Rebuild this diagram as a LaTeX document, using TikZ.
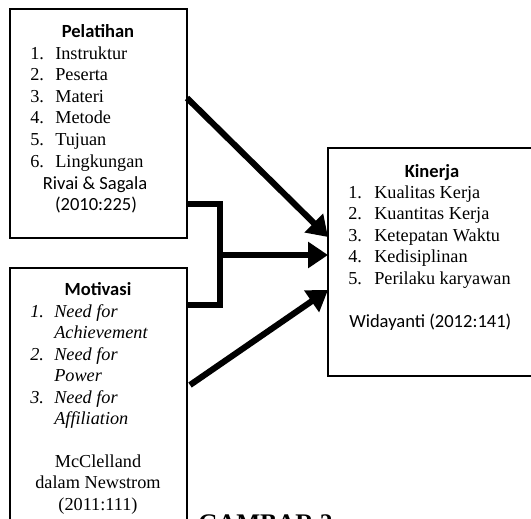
\documentclass[tikz,border=0pt]{standalone}
\usepackage{fontspec}
\setmainfont{Liberation Serif}
\newfontfamily\calfont{Carlito}
\usetikzlibrary{arrows.meta}
\begin{document}
\begin{tikzpicture}[x=0.75pt,y=-0.75pt,
  box/.style={draw, line width=1.4pt, anchor=north west, inner sep=0pt, outer sep=0pt},
  txt/.style={anchor=base west, inner sep=0pt, font=\fontsize{13.7}{16}\selectfont},
  ctxt/.style={anchor=base, inner sep=0pt, font=\fontsize{13.7}{16}\selectfont},
  head/.style={anchor=base, inner sep=0pt, font=\calfont\bfseries\fontsize{13.9}{16}\selectfont},
  cite/.style={inner sep=0pt, font=\calfont\fontsize{13.9}{16}\selectfont},
  itx/.style={txt, font=\itshape\fontsize{13.7}{16}\selectfont},
  link/.style={line width=4.6pt, -{Triangle[length=15pt,width=19pt]}},
  bracket/.style={line width=5.2pt, line join=miter}
]
\useasboundingbox (0,0) rectangle (531,518);
\fill[white] (0,0) rectangle (531,518);
% boxes
\node[box, minimum width=132.75pt, minimum height=171.75pt] (pel) at (10,9) {};
\node[box, minimum width=132.75pt, minimum height=196.5pt] (mot) at (10,268) {};
\node[box, minimum width=162.75pt, minimum height=171pt] (kin) at (328,148) {};
% Pelatihan text
\node[head] (pelt) at (98,37) {Pelatihan};
\node[txt] (p1n) at (30,59) {1.};
\node[txt] (p1) at (55,59) {Instruktur};
\node[txt] (p2n) at (30,80.6) {2.};
\node[txt] (p2) at (55,80.6) {Peserta};
\node[txt] (p3n) at (30,102.2) {3.};
\node[txt] (p3) at (55,102.2) {Materi};
\node[txt] (p4n) at (30,123.8) {4.};
\node[txt] (p4) at (55,123.8) {Metode};
\node[txt] (p5n) at (30,145.4) {5.};
\node[txt] (p5) at (55,145.4) {Tujuan};
\node[txt] (p6n) at (30,167) {6.};
\node[txt] (p6) at (55,167) {Lingkungan};
\node[cite, anchor=base] (pc1) at (95,189) {Rivai \& Sagala};
\node[cite, anchor=base] (pc2) at (96,210) {(2010:225)};
% Motivasi text
\node[head] (mott) at (98,295) {Motivasi};
\node[itx] (m1n) at (30,317) {1.};
\node[itx] (m1) at (54,317) {Need for};
\node[itx] (m1b) at (54,338.5) {Achievement};
\node[itx] (m2n) at (30,360) {2.};
\node[itx] (m2) at (54,360) {Need for};
\node[itx] (m2b) at (54,381.5) {Power};
\node[itx] (m3n) at (30,403) {3.};
\node[itx] (m3) at (54,403) {Need for};
\node[itx] (m3b) at (54,424.5) {Affiliation};
\node[ctxt] (mc1) at (98,467) {McClelland};
\node[ctxt] (mc2) at (98,488.5) {dalam Newstrom};
\node[ctxt] (mc3) at (98,510) {(2011:111)};
% Kinerja text
\node[head] (kint) at (432,177) {Kinerja};
\node[txt] (k1n) at (348,198) {1.};
\node[txt] (k1) at (374,198) {Kualitas Kerja};
\node[txt] (k2n) at (348,219.5) {2.};
\node[txt] (k2) at (374,219.5) {Kuantitas Kerja};
\node[txt] (k3n) at (348,241) {3.};
\node[txt] (k3) at (374,241) {Ketepatan Waktu};
\node[txt] (k4n) at (348,262.5) {4.};
\node[txt] (k4) at (374,262.5) {Kedisiplinan};
\node[txt] (k5n) at (348,284) {5.};
\node[txt] (k5) at (374,284) {Perilaku karyawan};
\node[cite, anchor=base west] (kc) at (349,327) {Widayanti (2012:141)};
% connectors
\coordinate (a1s) at (187,98);
\coordinate (a1e) at (328,237);
\coordinate (a3s) at (190,385);
\coordinate (a3e) at (328,290);
\coordinate (b1) at (187,204);
\coordinate (b2) at (220,204);
\coordinate (b3) at (220,305);
\coordinate (b4) at (187,305);
\coordinate (a2s) at (220,255);
\coordinate (a2e) at (328,255);
\draw[link] (a1s) -- (a1e);
\draw[link] (a3s) -- (a3e);
\draw[bracket] (b1) -- (b2) -- (b3) -- (b4);
\draw[link] (a2s) -- (a2e);
% caption
\node[anchor=base west, inner sep=0pt, font=\bfseries\fontsize{19}{19}\selectfont] (cap) at (198,531) {GAMBAR 2};
\end{tikzpicture}
\end{document}
